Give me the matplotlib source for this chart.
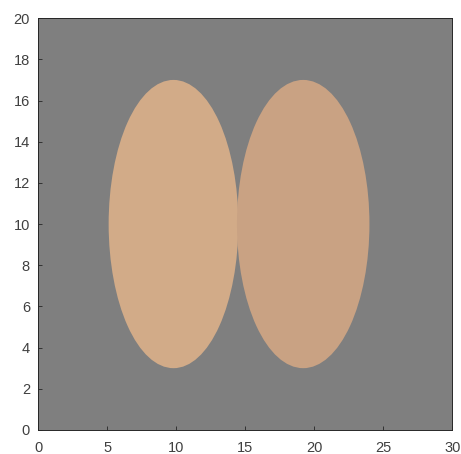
import matplotlib
matplotlib.use('Agg')
import matplotlib.pyplot as plt
from matplotlib.patches import Ellipse

plt.rcParams['font.family'] = ['Liberation Sans', 'DejaVu Sans']

# Data: two ellipses
centers_x = [9.8, 19.2]
centers_y = [10.0, 10.0]
widths = [9.4, 9.6]
heights = [14.0, 14.0]
fill_colors = ['#d2ab88', '#c9a283']

x_ticks = [0, 5, 10, 15, 20, 25, 30]
y_ticks = [0, 2, 4, 6, 8, 10, 12, 14, 16, 18, 20]

fig = plt.figure(figsize=(4.61, 4.54), dpi=100)
ax = fig.add_axes([0.083, 0.053, 0.898, 0.907])
ax.set_facecolor('#7f7f7f')

for cx, cy, w, h, c in zip(centers_x, centers_y, widths, heights, fill_colors):
    ax.add_patch(Ellipse((cx, cy), w, h, facecolor=c, edgecolor='none'))

ax.set_xlim(0, 30)
ax.set_ylim(0, 20)
ax.set_xticks(x_ticks)
ax.set_yticks(y_ticks)
ax.tick_params(direction='in', length=3, width=0.6, colors='#262626',
               labelsize=10.5, labelcolor='#404040')
ax.tick_params(axis='x', pad=8)
ax.tick_params(axis='y', pad=6)
for s in ax.spines.values():
    s.set_color('#262626')
    s.set_linewidth(0.7)

fig.savefig('out.png', dpi=100, facecolor='white')
